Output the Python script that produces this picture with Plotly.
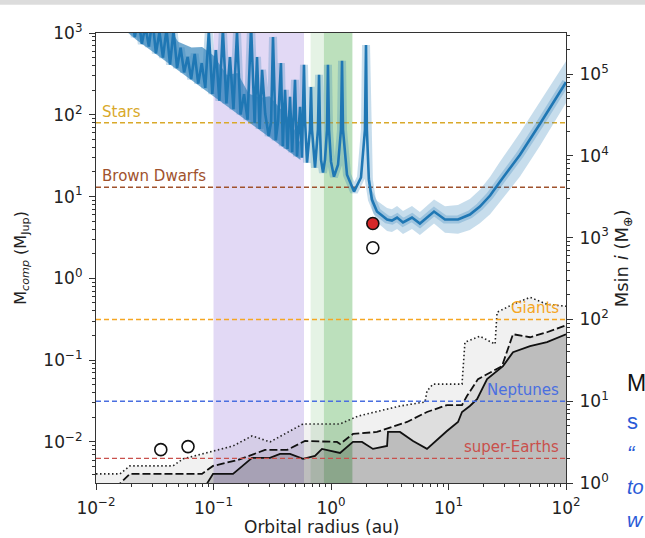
import math
import plotly.graph_objects as go

MJUP_IN_EARTH = 317.8  # Earth masses per Jupiter mass

# ---------------- data ----------------
x_range = [0.01, 100]

# detection-limit curve (M_Jup vs au)
limit_a = [0.01738, 0.01862, 0.01995, 0.02138, 0.02291, 0.02455, 0.02630, 0.02818,
           0.03020, 0.03236, 0.03467, 0.03715, 0.03981, 0.04266, 0.04571, 0.04898,
           0.05248, 0.05623, 0.06026, 0.06457, 0.06918, 0.07413, 0.07943, 0.08511,
           0.09120, 0.09772, 0.1047, 0.1122, 0.1202, 0.1288, 0.1380, 0.1479,
           0.1585, 0.1698, 0.1820, 0.1950, 0.2089, 0.2239, 0.2346, 0.2470,
           0.2590, 0.2754, 0.2951, 0.3090, 0.3210, 0.3388, 0.3548, 0.3750,
           0.3890, 0.4060, 0.4266, 0.4480, 0.4677, 0.4940, 0.5140, 0.5450,
           0.5660, 0.5780, 0.5890, 0.6010, 0.6250, 0.6620, 0.6760, 0.6890,
           0.7310, 0.7740, 0.7910, 0.8060, 0.8220, 0.8550, 0.8890, 0.9250,
           0.9420, 0.9620, 1.000, 1.060, 1.148, 1.216, 1.241, 1.265,
           1.368, 1.570, 1.800, 1.945, 1.986, 2.020, 2.100, 2.230,
           2.460, 3.000, 3.300, 3.650, 4.100, 4.890, 5.710, 7.530,
           9.330, 12.05, 15.20, 18.50, 22.60, 27.40, 40.60, 60.10, 100.0]
limit_m = [2100, 1033, 2050, 893, 1580, 736, 1220, 682,
           1490, 564, 1023, 499, 1114, 412, 1079, 373,
           661, 330, 509, 273, 555, 241, 428, 213,
           1042, 180, 620, 149, 1102, 138, 509, 117,
           1035, 101, 179, 87.3, 1227, 79.1, 509, 67.1,
           354, 103, 55.1, 81.3, 894, 48.8, 84.5, 430,
           41.2, 202, 38.3, 166, 34.8, 267, 31.0, 125,
           29.9, 86.9, 408, 86.9, 26.0, 65.6, 219, 65.6,
           22.6, 65.6, 308, 65.6, 28.3, 19.6, 28.3, 65.6,
           408, 65.6, 26.7, 17.5, 24.5, 65.6, 456, 65.6,
           18.5, 11.5, 17.1, 65.6, 714, 65.6, 16.1, 9.2,
           6.56, 5.25, 5.09, 5.54, 4.82, 5.54, 4.69, 6.56,
           5.25, 5.25, 6.03, 7.55, 10.3, 15.2, 32.5, 77.6, 250]

# dense (unresolved) part of the limit curve: lower / upper envelope
dense_a = [0.0174, 0.022, 0.03, 0.038, 0.05, 0.065, 0.08, 0.1,
           0.13, 0.16, 0.2, 0.25, 0.3, 0.37, 0.45, 0.55]
dense_lo = [1100, 828, 597, 466, 348, 264, 213, 168,
            128, 103, 81.1, 64.1, 53.0, 42.5, 34.6, 28.0]
dense_hi = [3100, 2080, 1684, 1472, 779, 664, 673, 531,
            306, 324, 181, 161, 168, 120, 86.5, 44.8]

# uncertainty band of the smooth part
band_a = [2.10, 2.23, 2.46, 3.00, 3.30, 3.65, 4.10, 4.89, 5.71, 7.53, 9.33, 12.05,
          15.2, 18.5, 22.6, 27.4, 40.6, 60.1, 100]
band_hi = [21.0, 12.0, 8.86, 7.25, 7.02, 7.65, 6.65, 7.65, 6.47, 9.18, 7.61, 7.88,
           9.35, 12.1, 17.5, 26.6, 60.1, 144, 450]
band_lo = [12.4, 7.08, 4.86, 3.80, 3.69, 4.01, 3.49, 4.01, 3.40, 4.69, 3.62, 3.50,
           3.89, 4.72, 6.06, 8.69, 17.6, 41.9, 139]

# occurrence-rate contours (M_Jup)
solid_a = [0.01, 0.0881, 0.0991, 0.1466, 0.2128, 0.3027, 0.368, 0.448, 0.578, 0.731,
           0.838, 1.194, 1.538, 1.837, 2.275, 3.00, 3.055, 3.864, 4.99, 6.56,
           9.70, 12.05, 13.03, 15.2, 17.5, 21.3, 29.1, 35.4, 49.4, 68.9, 100]
solid_m = [0.002, 0.0031, 0.00407, 0.00407, 0.00638, 0.00638, 0.00714, 0.00714, 0.00621, 0.00675,
           0.00822, 0.00734, 0.0100, 0.0100, 0.00822, 0.00893, 0.01325, 0.01325, 0.01028, 0.00822,
           0.01361, 0.01754, 0.02323, 0.0275, 0.0334, 0.0586, 0.0845, 0.1253, 0.1483, 0.166, 0.2075]

dashed_a = [0.01, 0.0160, 0.01945, 0.0798, 0.0991, 0.1618, 0.2742, 0.4227, 0.601, 1.125,
            1.194, 1.538, 2.46, 4.436, 6.56, 9.70, 13.03, 14.35, 17.82, 28.5,
            35.4, 49.4, 68.9, 100]
dashed_m = [0.002, 0.0031, 0.00407, 0.00407, 0.00509, 0.00603, 0.00798, 0.00798, 0.01028, 0.0100,
            0.00946, 0.01253, 0.01325, 0.01754, 0.02323, 0.02825, 0.02825, 0.0364, 0.0586, 0.0845,
            0.2075, 0.1905, 0.2193, 0.2673]

dotted_a = [0.01, 0.0160, 0.01945, 0.0452, 0.0550, 0.0970, 0.1466, 0.2128, 0.3027, 0.578,
            1.194, 1.698, 2.612, 3.864, 6.31, 6.56, 7.38, 13.03, 13.80, 18.5,
            24.9, 25.9, 35.4, 49.4, 68.9, 100]
dotted_m = [0.00407, 0.00407, 0.00509, 0.00509, 0.00621, 0.00776, 0.00893, 0.01183, 0.0100, 0.0166,
            0.0166, 0.0207, 0.0239, 0.0275, 0.0308, 0.0419, 0.0509, 0.0509, 0.166, 0.196,
            0.157, 0.385, 0.482, 0.586, 0.482, 0.456]

# mass thresholds
jup_thr_names = ["Stars", "Brown Dwarfs"]
jup_thr_vals = [80, 13]                       # M_Jup
jup_thr_colors = ["#d9a92a", "#a0522d"]
earth_thr_names = ["Giants", "Neptunes", "super-Earths"]
earth_thr_vals = [100, 10, 2]                 # M_Earth
earth_thr_colors = ["#f5a623", "#4a6fe0", "#c9504c"]

# companions
detected_a = [2.27]
detected_m = [4.69]
open_a = [2.27, 0.0356, 0.0607]
open_m = [2.37, 0.00805, 0.00877]

# shaded zones (au)
zone_purple = [0.1, 0.589]
zone_green_light = [0.671, 1.52]
zone_green_dark = [0.871, 1.52]

x_tick_vals = [0.01, 0.1, 1, 10, 100]
x_tick_text = ["10<sup>−2</sup>", "10<sup>−1</sup>", "10<sup>0</sup>", "10<sup>1</sup>", "10<sup>2</sup>"]
y_tick_vals = [0.01, 0.1, 1, 10, 100, 1000]
y_tick_text = ["10<sup>−2</sup>", "10<sup>−1</sup>", "10<sup>0</sup>", "10<sup>1</sup>", "10<sup>2</sup>", "10<sup>3</sup>"]
y2_tick_vals = [1, 10, 100, 1000, 10000, 100000]
y2_tick_text = ["10<sup>0</sup>", "10<sup>1</sup>", "10<sup>2</sup>", "10<sup>3</sup>", "10<sup>4</sup>", "10<sup>5</sup>"]

x_title = "Orbital radius (au)"
y_title = "M<sub><i>comp</i></sub> (M<sub>Jup</sub>)"
y2_title = "Msin <i>i</i> (M<sub>⊕</sub>)"

# visible fragments of the slide text beside the chart
slide_text = ["M", "s", "“", "to", "w"]

# ---------------- figure ----------------
FONT = "DejaVu Sans"
y_min = 1.0 / MJUP_IN_EARTH
y_max = 1000.0
fill_lo, fill_hi = 1e-4, 1e5
BLUE = "#1f77b4"

fig = go.Figure()

def zone(rng, color):
    fig.add_trace(go.Scatter(x=[rng[0], rng[1], rng[1], rng[0]],
                             y=[fill_lo, fill_lo, fill_hi, fill_hi],
                             fill="toself", fillcolor=color, mode="lines",
                             line=dict(width=0), hoverinfo="skip", showlegend=False))

zone(zone_purple, "rgba(150,120,220,0.28)")
zone(zone_green_light, "rgba(44,160,44,0.12)")
zone(zone_green_dark, "rgba(44,160,44,0.22)")

# floor for fills
fig.add_trace(go.Scatter(x=x_range, y=[fill_lo, fill_lo], mode="lines",
                         line=dict(width=0), hoverinfo="skip", showlegend=False))
fig.add_trace(go.Scatter(x=solid_a, y=solid_m, mode="lines", fill="tonexty",
                         fillcolor="rgba(0,0,0,0.26)",
                         line=dict(color="#111111", width=1.8), showlegend=False))
fig.add_trace(go.Scatter(x=dashed_a, y=dashed_m, mode="lines", fill="tonexty",
                         fillcolor="rgba(0,0,0,0.13)",
                         line=dict(color="#111111", width=1.8, dash="8px,3px"), showlegend=False))
fig.add_trace(go.Scatter(x=dotted_a, y=dotted_m, mode="lines", fill="tonexty",
                         fillcolor="rgba(0,0,0,0.055)",
                         line=dict(color="#222222", width=1.6, dash="1.5px,2.5px"), showlegend=False))

# threshold lines
for name, v, c in zip(jup_thr_names, jup_thr_vals, jup_thr_colors):
    fig.add_trace(go.Scatter(x=x_range, y=[v, v], mode="lines",
                             line=dict(color=c, width=1.4, dash="5px,3px"), showlegend=False))
for name, v, c in zip(earth_thr_names, earth_thr_vals, earth_thr_colors):
    fig.add_trace(go.Scatter(x=x_range, y=[v, v], mode="lines", yaxis="y2",
                             line=dict(color=c, width=1.4, dash="5px,3px"), showlegend=False))

# detection limit: band, dense envelope, curve
fig.add_trace(go.Scatter(x=band_a, y=band_lo, mode="lines", line=dict(width=0),
                         hoverinfo="skip", showlegend=False))
fig.add_trace(go.Scatter(x=band_a, y=band_hi, mode="lines", line=dict(width=0),
                         fill="tonexty", fillcolor="rgba(31,119,180,0.25)",
                         hoverinfo="skip", showlegend=False))
fig.add_trace(go.Scatter(x=limit_a, y=limit_m, mode="lines",
                         line=dict(color="rgba(31,119,180,0.25)", width=8), showlegend=False))
fig.add_trace(go.Scatter(x=dense_a, y=dense_lo, mode="lines", line=dict(width=0),
                         hoverinfo="skip", showlegend=False))
fig.add_trace(go.Scatter(x=dense_a, y=dense_hi, mode="lines", line=dict(width=0),
                         fill="tonexty", fillcolor="rgba(31,119,180,0.62)",
                         hoverinfo="skip", showlegend=False))
fig.add_trace(go.Scatter(x=limit_a, y=limit_m, mode="lines",
                         line=dict(color=BLUE, width=2.6), showlegend=False))

# companions
fig.add_trace(go.Scatter(x=open_a, y=open_m, mode="markers",
                         marker=dict(size=12, color="white", line=dict(color="#111111", width=1.6)),
                         showlegend=False))
fig.add_trace(go.Scatter(x=detected_a, y=detected_m, mode="markers",
                         marker=dict(size=12, color="#d62728", line=dict(color="#111111", width=1.6)),
                         showlegend=False))

# threshold labels
for name, v, c in zip(jup_thr_names, jup_thr_vals, jup_thr_colors):
    fig.add_annotation(text=name, xref="paper", x=0.008, yref="y", y=math.log10(v),
                       xanchor="left", yanchor="bottom", showarrow=False,
                       font=dict(family=FONT, size=15, color=c))
for name, v, c in zip(earth_thr_names, earth_thr_vals, earth_thr_colors):
    fig.add_annotation(text=name, xref="paper", x=0.99, yref="y2", y=math.log10(v),
                       xanchor="right", yanchor="bottom", showarrow=False,
                       font=dict(family=FONT, size=15, color=c))

# axis titles
fig.add_annotation(text=x_title, xref="paper", yref="paper", x=0.48, y=-0.098,
                   xanchor="center", yanchor="middle", showarrow=False,
                   font=dict(family=FONT, size=17, color="#222222"))
fig.add_annotation(text=y_title, xref="paper", yref="paper", x=-0.16, y=0.50, textangle=-90,
                   xanchor="center", yanchor="middle", showarrow=False,
                   font=dict(family=FONT, size=16, color="#222222"))
fig.add_annotation(text=y2_title, xref="paper", yref="paper", x=1.122, y=0.50, textangle=-90,
                   xanchor="center", yanchor="middle", showarrow=False,
                   font=dict(family=FONT, size=18, color="#222222"))

# slide-text fragments on the right
slide_styles = [("#111111", False, 23, 0.222), ("#2a5bd7", False, 22, 0.136),
                ("#2a5bd7", True, 22, 0.066), ("#2a5bd7", True, 20, -0.008),
                ("#2a5bd7", True, 21, -0.080)]
for txt, (col, ital, sz, yp) in zip(slide_text, slide_styles):
    fig.add_annotation(text=("<i>%s</i>" % txt) if ital else txt, xref="paper", yref="paper",
                       x=1.125, y=yp, xanchor="left", yanchor="middle", showarrow=False,
                       font=dict(family="Liberation Sans", size=sz, color=col))

# slide strip at the top
fig.add_shape(type="rect", xref="paper", yref="paper", x0=-0.3, x1=1.2, y0=1.063, y1=1.08,
              fillcolor="#dcdcdc", line=dict(width=0), layer="below")

axis_common = dict(type="log", ticks="outside", ticklen=6, tickwidth=1, tickcolor="#333333",
                   showline=True, linecolor="#333333", linewidth=1.2, showgrid=False,
                   zeroline=False, automargin=False,
                   tickfont=dict(family=FONT, size=17, color="#222222"),
                   minor=dict(ticks="outside", ticklen=3, tickwidth=1, tickcolor="#333333",
                              dtick="D1", showgrid=False))

fig.update_layout(
    width=645, height=538,
    margin=dict(l=96, r=79, t=33, b=55, autoexpand=False),
    paper_bgcolor="white", plot_bgcolor="white",
    font=dict(family=FONT, color="#222222"),
    showlegend=False,
    xaxis=dict(axis_common, range=[math.log10(x_range[0]), math.log10(x_range[1])],
               tickmode="array", tickvals=x_tick_vals, ticktext=x_tick_text, mirror=True,
               ticklabelstandoff=3),
    yaxis=dict(axis_common, range=[math.log10(y_min), math.log10(y_max)],
               tickmode="array", tickvals=y_tick_vals, ticktext=y_tick_text,
               ticklabelstandoff=3),
    yaxis2=dict(axis_common, overlaying="y", side="right", anchor="x",
                range=[0, math.log10(y_max * MJUP_IN_EARTH)],
                tickmode="array", tickvals=y2_tick_vals, ticktext=y2_tick_text,
                ticklabelstandoff=3),
)

fig.write_html("out.html")
